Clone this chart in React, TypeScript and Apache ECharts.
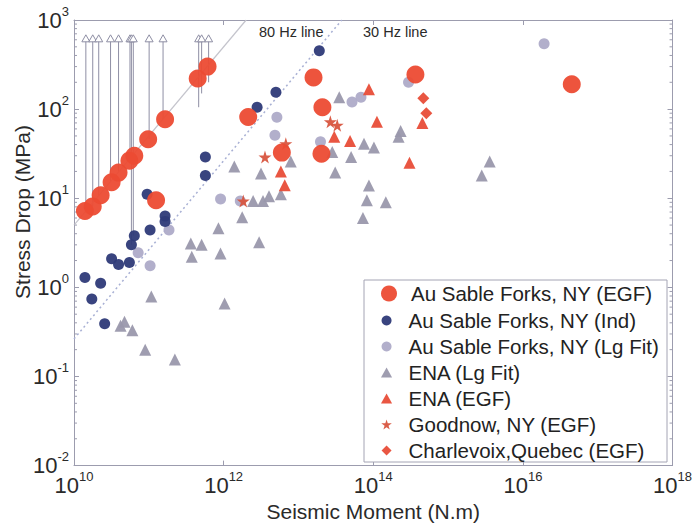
import React, { useEffect, useRef } from 'react';
import * as echarts from 'echarts';

// ---- Data (Seismic moment in N.m, stress drop in MPa) ----
const xTickExponents = [10, 12, 14, 16, 18];
const yTickExponents = [-2, -1, 0, 1, 2, 3];
const minorMultipliers = [2, 3, 4, 5, 6, 7, 8, 9];

const auSableEGF = [
  [1.4e10, 7.2], [1.78e10, 8.1], [2.27e10, 10.8], [3.18e10, 15.1], [3.94e10, 19.4],
  [5.5e10, 26.4], [6.4e10, 30], [9.8e10, 46], [1.65e11, 77], [1.25e11, 9.5],
  [4.5e11, 221], [6.1e11, 300], [2.13e12, 81.5], [6.0e12, 32.5], [1.59e13, 227],
  [2.09e13, 105], [2.03e13, 31.6], [3.66e14, 245], [4.5e16, 190],
];
const auSableInd = [
  [1.4e10, 1.29], [2.27e10, 1.11], [1.73e10, 0.74], [2.57e10, 0.39], [3.18e10, 2.1],
  [3.94e10, 1.8], [5.5e10, 1.9], [5.85e10, 3.0], [6.4e10, 3.8], [1.04e11, 4.4],
  [9.5e10, 11.1], [1.65e11, 6.3], [1.65e11, 5.5], [5.7e11, 29], [5.7e11, 18],
  [2.8e12, 105], [5.0e12, 155], [1.9e13, 453],
];
const auSableLg = [
  [9.1e11, 9.8], [1.86e11, 4.4], [7.2e10, 2.45], [1.04e11, 1.75], [1.67e12, 9.3],
  [5.15e12, 81], [4.85e12, 51], [1.97e13, 43], [5.2e13, 120], [6.85e13, 136],
  [2.96e14, 200], [1.92e16, 541],
];
const enaLg = [
  [1.08e11, 0.79], [4.73e10, 0.41], [4.19e10, 0.37], [6.03e10, 0.33], [8.95e10, 0.2],
  [2.23e11, 0.155], [3.64e11, 3.1], [5.08e11, 3.0], [3.75e11, 2.2], [8.53e11, 4.6],
  [9.08e11, 2.4], [1.03e12, 0.66], [1.77e12, 6.1], [2.98e12, 3.2], [4.04e12, 10.5],
  [5.82e12, 11.1], [1.39e12, 22.7], [7.89e12, 25.8], [3.16e12, 19], [3.51e13, 136],
  [3.1e13, 19.4], [5.06e13, 29], [7.52e13, 41], [1.02e14, 37], [8.75e13, 13.9],
  [2.32e14, 57], [2.18e14, 49], [8.22e13, 9.5], [1.47e14, 9], [7.28e13, 6],
  [3.6e15, 25.8], [2.82e15, 18], [2.48e12, 9.3], [3.36e12, 9.3], [2.83e13, 33],
];
const enaEGF = [
  [8.75e13, 167], [1.12e14, 72], [3.01e13, 49], [4.9e13, 44], [5.82e12, 20],
  [3.05e14, 25], [4.53e14, 70], [6.56e12, 14],
];
const goodnow = [
  [3.57e12, 29], [6.78e12, 41], [2.67e13, 72], [3.3e13, 66], [1.83e12, 9.3],
];
const charlevoix = [
  [4.67e14, 132], [5.12e14, 90],
];
// upper-bound bars: [moment, lower stress drop, upper bound]
const upperBounds = [
  [1.44e10, 7.2, 615], [1.78e10, 8.1, 615], [2.14e10, 10.8, 615], [3.08e10, 15.1, 615],
  [3.94e10, 19.4, 615], [5.6e10, 26, 615], [5.85e10, 3.0, 615], [6.2e10, 3.8, 615],
  [1.01e11, 46, 615], [1.55e11, 77, 615], [4.64e11, 105, 615], [5.08e11, 150, 615],
  [6.3e11, 200, 615],
];
const hz80Line = [[1e10, 5.0], [2.0e12, 1000]];
const hz30Line = [[1e10, 0.264], [3.8e13, 1000]];

const seriesNames = [
  'Au Sable Forks, NY (EGF)',
  'Au Sable Forks, NY (Ind)',
  'Au Sable Forks, NY (Lg Fit)',
  'ENA (Lg Fit)',
  'ENA (EGF)',
  'Goodnow, NY (EGF)',
  'Charlevoix,Quebec (EGF)',
];

const STAR = 'path://M50,0 L61,35 L98,35 L68,57 L79,91 L50,70 L21,91 L32,57 L2,35 L39,35 Z';
const TRI = 'path://M5,0 L10,9 L0,9 Z';
const DIAM = 'path://M5,0 L10,5 L5,10 L0,5 Z';
const AXIS_COLOR = '#9c9cae';
const FONT = 'Liberation Sans, Arial, sans-serif';
const TEXT = '#2a2a2a';

export default function App() {
  const ref = useRef<HTMLDivElement>(null);
  useEffect(() => {
    if (!ref.current) return;
    const chart = echarts.init(ref.current, null, { renderer: 'svg' });
    const minorVals: number[] = [];
    for (let e = yTickExponents[0]; e < yTickExponents[yTickExponents.length - 1]; e++) {
      for (const m of minorMultipliers) minorVals.push(m * Math.pow(10, e));
    }
    const fmt = (v: number) => `{b|10}{s|${Math.round(Math.log10(v))}}`;
    const rich = {
      b: { fontSize: 22, fontFamily: FONT, color: TEXT },
      s: { fontSize: 13, fontFamily: FONT, color: TEXT, padding: [0, 0, 18, 0] },
    };
    const xMin = Math.pow(10, xTickExponents[0]);
    const xMax = Math.pow(10, xTickExponents[xTickExponents.length - 1]);
    const yMin = Math.pow(10, yTickExponents[0]);
    const yMax = Math.pow(10, yTickExponents[yTickExponents.length - 1]);
    const axisCommon = {
      type: 'log' as const,
      logBase: 10,
      axisLine: { show: true, lineStyle: { color: AXIS_COLOR, width: 1 } },
      axisTick: { show: true, inside: true, length: 5, lineStyle: { color: AXIS_COLOR } },
      splitLine: { show: false },
    };
    const scatterBase = (name: string, data: number[][], symbol: string, size: number, color: string, z = 2) => ({
      name,
      type: 'scatter',
      data,
      symbol,
      symbolSize: size,
      itemStyle: { color, opacity: 0.95 },
      z,
    });
    const legendText = { fontSize: 20.5, fontFamily: FONT, color: '#222', lineHeight: 20 };
    chart.setOption({
      animation: false,
      grid: { left: 74, top: 20, right: 16, bottom: 57 },
      xAxis: [
        {
          ...axisCommon,
          min: xMin, max: xMax, interval: 2,
          position: 'bottom',
          axisLabel: { formatter: fmt, rich, margin: 4 },
          name: 'Seismic Moment (N.m)',
          nameLocation: 'middle',
          nameGap: 31,
          nameTextStyle: { fontSize: 21, fontFamily: FONT, color: TEXT },
        },
        {
          ...axisCommon,
          min: xMin, max: xMax, interval: 2,
          position: 'top',
          axisLabel: { show: false },
        },
      ],
      yAxis: [
        {
          ...axisCommon,
          min: yMin, max: yMax, interval: 1,
          position: 'left',
          axisLabel: { formatter: fmt, rich, margin: 5 },
        },
        {
          ...axisCommon,
          min: yMin, max: yMax, interval: 1,
          position: 'right',
          axisLabel: { show: false },
        },
      ],
      legend: [
        {
          data: [{ name: seriesNames[0], icon: 'circle' }],
          orient: 'vertical', left: 381, top: 283, padding: 0,
          itemWidth: 34, itemHeight: 16, itemGap: 5, selectedMode: false,
          textStyle: legendText,
          z: 10,
        },
        {
          data: [
            { name: seriesNames[1], icon: 'circle' },
            { name: seriesNames[2], icon: 'circle' },
            { name: seriesNames[3], icon: TRI },
            { name: seriesNames[4], icon: TRI },
            { name: seriesNames[5], icon: STAR },
            { name: seriesNames[6], icon: DIAM },
          ],
          orient: 'vertical', left: 381, top: 310, padding: 0,
          itemWidth: 34, itemHeight: 10, itemGap: 5, selectedMode: false,
          symbolKeepAspect: true,
          textStyle: legendText,
          z: 10,
        },
      ],
      graphic: [
        {
          type: 'rect', z: 8,
          shape: { x: 364, y: 280, width: 303, height: 182 },
          style: { fill: '#fff', stroke: '#a4a4b4', lineWidth: 1 },
        },
        {
          type: 'text', x: 259, y: 32, z: 8,
          style: { text: '80 Hz line', fontSize: 14.5, fontFamily: FONT, fill: TEXT, verticalAlign: 'middle' },
        },
        {
          type: 'text', x: 363, y: 32, z: 8,
          style: { text: '30 Hz line', fontSize: 14.5, fontFamily: FONT, fill: TEXT, verticalAlign: 'middle' },
        },
        {
          type: 'text', x: 22, y: 212, rotation: Math.PI / 2, z: 8,
          style: { text: 'Stress Drop (MPa)', fontSize: 21, fontFamily: FONT, fill: TEXT, align: 'center', verticalAlign: 'middle' },
        },
      ],
      series: [
        {
          name: 'minorTicks',
          type: 'custom',
          xAxisIndex: 0, yAxisIndex: 0,
          data: minorVals.map((v) => [xMin, v]),
          encode: { x: 0, y: 1 },
          silent: true,
          renderItem: (params: any, api: any) => {
            const pl = api.coord([xMin, api.value(1)]);
            const pr = api.coord([xMax, api.value(1)]);
            return {
              type: 'group',
              children: [
                { type: 'line', shape: { x1: pl[0], y1: pl[1], x2: pl[0] + 3, y2: pl[1] }, style: { stroke: AXIS_COLOR, lineWidth: 1 } },
                { type: 'line', shape: { x1: pr[0] - 3, y1: pr[1], x2: pr[0], y2: pr[1] }, style: { stroke: AXIS_COLOR, lineWidth: 1 } },
              ],
            };
          },
        },
        {
          name: '80 Hz line', type: 'line', data: hz80Line, symbol: 'none', silent: true,
          lineStyle: { color: '#c4c4cc', width: 1.2, type: 'solid' }, z: 1,
        },
        {
          name: '30 Hz line', type: 'line', data: hz30Line, symbol: 'none', silent: true,
          lineStyle: { color: '#a8b0d4', width: 1.5, type: [2, 3] }, z: 1,
        },
        {
          name: 'bounds',
          type: 'custom',
          data: upperBounds,
          encode: { x: 0, y: 1 },
          silent: true,
          z: 1,
          renderItem: (params: any, api: any) => {
            const p0 = api.coord([api.value(0), api.value(1)]);
            const p1 = api.coord([api.value(0), api.value(2)]);
            return {
              type: 'group',
              children: [
                { type: 'line', shape: { x1: p0[0], y1: p0[1], x2: p1[0], y2: p1[1] }, style: { stroke: '#8e8ea4', lineWidth: 1 } },
                {
                  type: 'polygon',
                  shape: { points: [[p1[0] - 4, p1[1] + 3], [p1[0] + 4, p1[1] + 3], [p1[0], p1[1] - 4]] },
                  style: { stroke: '#8e8ea4', fill: '#ffffff', lineWidth: 1 },
                },
              ],
            };
          },
        },
        scatterBase(seriesNames[3], enaLg, 'triangle', 12, '#9a98ac'),
        scatterBase(seriesNames[2], auSableLg, 'circle', 11, '#aeabc8'),
        scatterBase(seriesNames[1], auSableInd, 'circle', 11, '#2e3a78'),
        scatterBase(seriesNames[4], enaEGF, 'triangle', 12, '#e84d38'),
        scatterBase(seriesNames[5], goodnow, STAR, 13, '#d8553f'),
        scatterBase(seriesNames[6], charlevoix, 'diamond', 12, '#e84d38'),
        scatterBase(seriesNames[0], auSableEGF, 'circle', 18, '#ec4b33', 3),
      ],
    });
    return () => chart.dispose();
  }, []);
  return (
    <div
      ref={ref}
      style={{ position: 'fixed', left: 0, top: 0, width: 695, height: 527, background: '#fff' }}
    />
  );
}
